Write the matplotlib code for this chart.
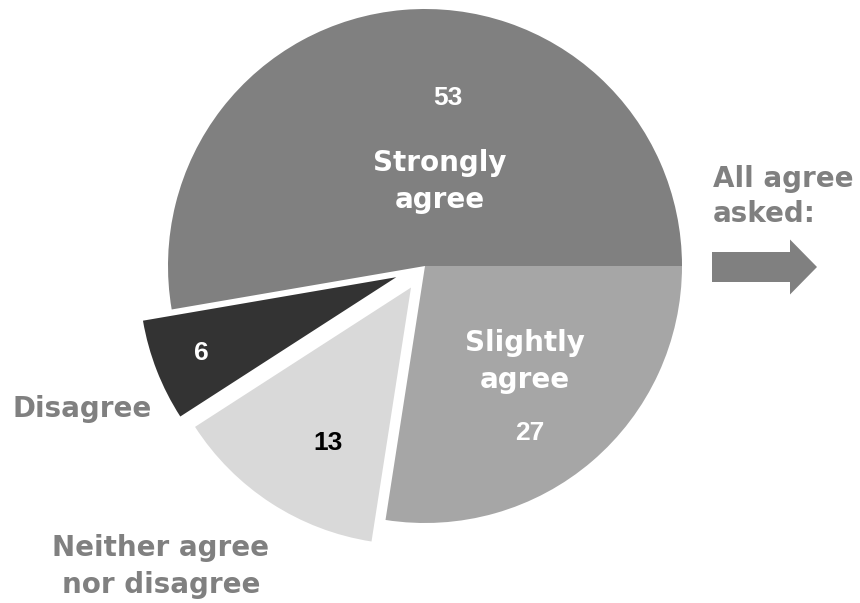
import matplotlib.pyplot as plt

# survey shares, counter-clockwise from 3 o'clock
labels = ['Strongly agree', 'Disagree', 'Neither agree nor disagree', 'Slightly agree']
shares = [52.6, 6.4, 13.4, 27.4]
colors = ['#808080', '#333333', '#d9d9d9', '#a6a6a6']
explode_frac = [0, 0.12, 0.10, 0]
num_colors = ['white', 'white', 'black', 'white']

W, H = 860, 603
R = 257
GRAY = '#808080'
LABEL_FONT = 'DejaVu Sans'
NUM_FONT = 'Liberation Sans'


def Y(y):
    # image pixel row -> axes y
    return H - y


fig = plt.figure(figsize=(8.6, 6.03), dpi=100)
ax = fig.add_axes([0, 0, 1, 1])

ax.pie(shares, colors=colors, startangle=0, counterclock=True,
       center=(425, Y(266)), radius=R,
       explode=[e * R for e in explode_frac],
       wedgeprops=dict(linewidth=0))
# pie resets the limits, so set them afterwards
ax.set_xlim(0, W)
ax.set_ylim(0, H)
ax.set_aspect('auto')
ax.axis('off')

# value numbers
num_pos = [(448, 105), (201, 360), (328, 450), (530, 440)]
for v, (x, y), c in zip(shares, num_pos, num_colors):
    ax.text(x, Y(y), f'{v:.0f}', ha='center', va='baseline', color=c,
            fontsize=19, fontweight='bold', family=NUM_FONT)

# category names inside the slices (baseline = last line)
ax.text(440, Y(208), 'Strongly\nagree', ha='center', va='baseline',
        multialignment='center', linespacing=1.42, color='white',
        fontsize=20, fontweight='bold', family=LABEL_FONT)
ax.text(525, Y(388), 'Slightly\nagree', ha='center', va='baseline',
        multialignment='center', linespacing=1.42, color='white',
        fontsize=20, fontweight='bold', family=LABEL_FONT)

# category names outside
ax.text(82, Y(417), 'Disagree', ha='center', va='baseline', color=GRAY,
        fontsize=20, fontweight='bold', family=LABEL_FONT)
ax.text(161, Y(593), 'Neither agree\nnor disagree', ha='center', va='baseline',
        multialignment='center', linespacing=1.4, color=GRAY,
        fontsize=20, fontweight='bold', family=LABEL_FONT)

ax.text(713, Y(222), 'All agree\nasked:', ha='left', va='baseline',
        linespacing=1.34, color=GRAY,
        fontsize=20, fontweight='bold', family=LABEL_FONT)
ax.arrow(712, Y(267), 105, 0, width=30, head_width=55, head_length=27,
         length_includes_head=True, color=GRAY, linewidth=0)

fig.savefig('out.png', dpi=100)
